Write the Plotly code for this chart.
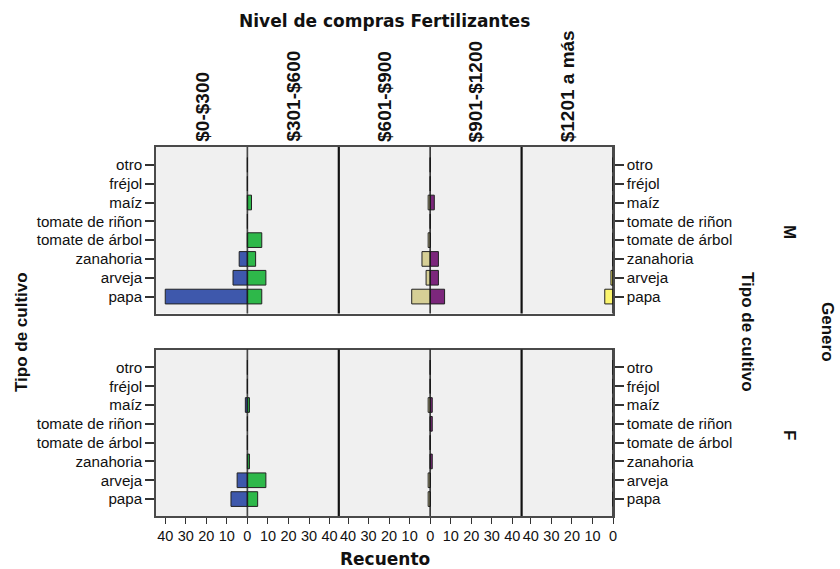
import plotly.graph_objects as go
from plotly.subplots import make_subplots

# Crop types (bottom to top) and purchase levels
cultivos = ["papa", "arveja", "zanahoria", "tomate de árbol",
            "tomate de riñon", "maíz", "fréjol", "otro"]
niveles = ["$0-$300", "$301-$600", "$601-$900", "$901-$1200", "$1201 a más"]
generos = ["M", "F"]

# Counts per purchase level, men
m_0_300 = [40, 7, 4, 0, 0, 0, 0, 0]
m_301_600 = [7, 9, 4, 7, 0, 2, 0, 0]
m_601_900 = [9, 2, 4, 1, 0, 1, 0, 0]
m_901_1200 = [7, 4, 4, 0, 0, 2, 0, 0]
m_1201_mas = [4, 1, 0, 0, 0, 0, 0, 0]

# Counts per purchase level, women
f_0_300 = [8, 5, 0, 0, 0, 1, 0, 0]
f_301_600 = [5, 9, 1, 0, 0, 1, 0, 0]
f_601_900 = [1, 1, 0, 0, 0, 1, 0, 0]
f_901_1200 = [0, 0, 1, 0, 1, 1, 0, 0]
f_1201_mas = [0, 0, 0, 0, 0, 0, 0, 0]

# Count axis ticks
ticks_recuento = [0, 10, 20, 30, 40]

conteos = {
    "M": [m_0_300, m_301_600, m_601_900, m_901_1200, m_1201_mas],
    "F": [f_0_300, f_301_600, f_601_900, f_901_1200, f_1201_mas],
}
colores = ["#3E58AC", "#2EB84A", "#D6CF96", "#7C277C", "#FBF56E"]

W, H = 840, 569
L, R, T, B = 156, 227, 147, 53
PW, PH = W - L - R, H - T - B
XMAX = 44.5


def px_x(x):
    return (x - L) / PW


def px_y(y):
    return (H - B - y) / PH


fig = make_subplots(rows=2, cols=5, horizontal_spacing=0,
                    vertical_spacing=36 / PH)

for r, g in enumerate(generos, start=1):
    for c in range(1, 6):
        fig.add_trace(go.Bar(
            y=cultivos, x=conteos[g][c - 1], orientation="h",
            width=0.78,
            marker=dict(color=colores[c - 1],
                        line=dict(color="#222222", width=1)),
            showlegend=False, hoverinfo="x+y",
        ), row=r, col=c)

tick_font = dict(family="Liberation Sans, Arial, sans-serif", size=15.2,
                 color="#111111")
frame = "#4a4a4a"

for r in (1, 2):
    for c in range(1, 6):
        idx = (r - 1) * 5 + c
        xr = [XMAX, 0] if c % 2 == 1 else [0, XMAX]
        # the shared zero label is drawn once, by the left half of each pair
        tv = ticks_recuento if c % 2 == 1 else [t for t in ticks_recuento if t]
        fig.update_xaxes(
            range=xr, showgrid=False, zeroline=False,
            showline=True, mirror=True, linecolor=frame, linewidth=1.5,
            tickvals=tv,
            ticks="outside" if r == 2 else "",
            ticklen=6, tickcolor="#333333", tickwidth=1,
            showticklabels=(r == 2),
            tickfont=dict(family="Liberation Sans, Arial, sans-serif",
                          size=14.5, color="#111111"),
            row=r, col=c)
        yopts = dict(
            type="category", categoryorder="array", categoryarray=cultivos,
            tickmode="array", tickvals=cultivos, ticktext=cultivos,
            range=[-0.9, 7.95], showgrid=False, zeroline=False,
            tickfont=tick_font, ticklen=9, tickcolor="#333333", tickwidth=1.5,
        )
        if c == 1:
            yopts.update(showline=True, linecolor=frame, linewidth=1.5,
                         ticks="outside", showticklabels=True)
        elif c == 5:
            yopts.update(showline=True, linecolor=frame, linewidth=1.5,
                         ticks="outside", showticklabels=True, side="right")
        else:
            yopts.update(showline=False, ticks="", showticklabels=False)
        fig.update_yaxes(row=r, col=c, **yopts)

        xa = "x" if idx == 1 else f"x{idx}"
        ya = "y" if idx == 1 else f"y{idx}"
        # zero line of each half
        fig.add_shape(type="line", xref=xa, yref=f"{ya} domain",
                      x0=0, x1=0, y0=0, y1=1,
                      line=dict(color="#111111", width=1.5), layer="above")
        # separators between purchase-level pairs
        if c in (2, 4):
            fig.add_shape(type="line", xref=f"{xa} domain",
                          yref=f"{ya} domain", x0=1, x1=1, y0=0, y1=1,
                          line=dict(color="#111111", width=2.2),
                          layer="above")

bold = dict(family="Liberation Sans, Arial, sans-serif", size=17,
            color="#111111", weight="bold")
bold_wide = dict(family="DejaVu Sans, sans-serif", size=17,
                 color="#111111", weight="bold")
header = dict(family="Liberation Sans, Arial, sans-serif",
              size=19, color="#111111", weight="bold")

ann = []
ann.append(dict(text="Nivel de compras Fertilizantes", x=px_x(384),
                y=px_y(21), font=bold_wide))
for c, nv in enumerate(niveles):
    ann.append(dict(text=nv, x=(c + 0.5) / 5, y=1, yanchor="bottom",
                    yshift=3, textangle=-90, font=header))
ann.append(dict(text="Recuento", x=px_x(385), y=px_y(559), font=bold_wide))
ann.append(dict(text="Tipo de cultivo", x=px_x(21), y=px_y(332),
                textangle=-90, font=bold))
ann.append(dict(text="Tipo de cultivo", x=px_x(748), y=px_y(332),
                textangle=90, font=bold))
ann.append(dict(text="M", x=px_x(790), y=px_y(232), textangle=90, font=bold))
ann.append(dict(text="F", x=px_x(790), y=px_y(435), textangle=90, font=bold))
ann.append(dict(text="Genero", x=px_x(828), y=px_y(332), textangle=90,
                font=bold))
for a in ann:
    a.setdefault("xref", "paper")
    a.setdefault("yref", "paper")
    a.setdefault("showarrow", False)
    a.setdefault("xanchor", "center")
    a.setdefault("yanchor", "middle")

fig.update_layout(
    width=W, height=H,
    margin=dict(l=L, r=R, t=T, b=B, pad=0),
    paper_bgcolor="white", plot_bgcolor="#F0F0F0",
    bargap=0.2, showlegend=False,
    annotations=ann,
    font=dict(family="Liberation Sans, Arial, sans-serif", color="#111111"),
)

fig.write_html("out.html")
